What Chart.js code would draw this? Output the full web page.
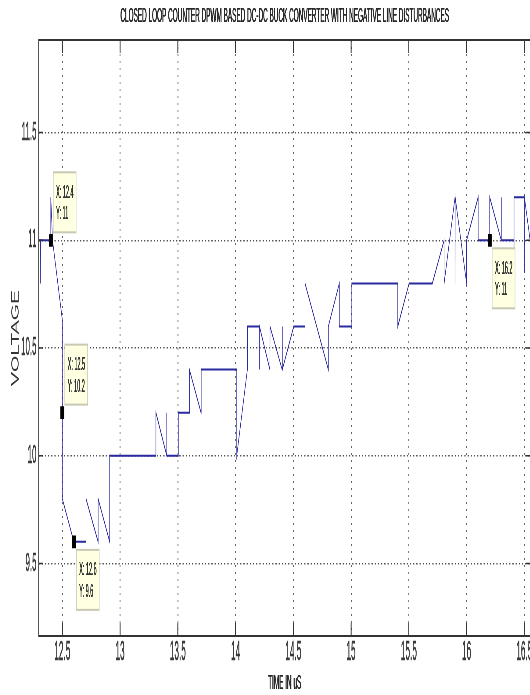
<!DOCTYPE html>
<html>
<head>
<meta charset="utf-8">
<title>DPWM buck converter</title>
<script src="https://cdn.jsdelivr.net/npm/chart.js@4.4.0/dist/chart.umd.min.js"></script>
<style>
  html, body { margin: 0; padding: 0; overflow: hidden; background: #fff; }
  /* the plot is laid out wide and squeezed horizontally */
  #wrap { position: absolute; left: 0; top: 0; transform: scaleX(0.305); transform-origin: 0 0; }
</style>
</head>
<body>
<div id="wrap"><canvas id="voltChart" width="1787" height="695"></canvas></div>
<script>
var chartTitle = 'CLOSED LOOP COUNTER DPWM BASED DC-DC BUCK CONVERTER WITH NEGATIVE LINE DISTURBANCES';
var xTitle = 'TIME IN uS';
var yTitle = 'VOLTAGE';

// output voltage trace (time in us, volts)
var timeUs = [
    12.25, 12.31, 12.31, 12.312, 12.4, 12.4, 12.415, 12.5, 12.5, 12.6,
    12.705, 12.705, 12.81, 12.81, 12.91, 12.91, 13.31, 13.31, 13.404, 13.404,
    13.405, 13.504, 13.504, 13.6, 13.6, 13.701, 13.702, 14.01, 14.01, 14.102,
    14.102, 14.206, 14.206, 14.207, 14.297, 14.298, 14.403, 14.404, 14.405, 14.503,
    14.601, 14.601, 14.803, 14.803, 14.898, 14.898, 15.006, 15.006, 15.404, 15.404,
    15.502, 15.703, 15.805, 15.805, 15.9, 15.9, 15.901, 16.0, 16.0, 16.1,
    16.1, 16.2, 16.2, 16.3, 16.3, 16.301, 16.41, 16.41, 16.411, 16.5,
    16.5, 16.501, 16.6
];
var voltage = [
    11.0, 11.0, 10.8, 11.0, 11.0, 11.2, 11.0, 10.63, 9.8, 9.6,
    9.6, 9.8, 9.6, 9.8, 9.6, 10.0, 10.0, 10.2, 10.0, 10.2,
    10.0, 10.0, 10.2, 10.2, 10.4, 10.2, 10.4, 10.4, 10.0, 10.4,
    10.6, 10.6, 10.4, 10.6, 10.4, 10.6, 10.4, 10.6, 10.4, 10.6,
    10.6, 10.8, 10.4, 10.6, 10.8, 10.6, 10.6, 10.8, 10.8, 10.6,
    10.8, 10.8, 11.0, 10.8, 11.2, 10.8, 11.2, 10.8, 11.0, 11.2,
    11.0, 11.0, 11.2, 11.0, 11.2, 11.0, 11.0, 10.85, 11.2, 11.2,
    10.85, 11.2, 10.8
];

// data cursors
var tipX = [12.4, 12.5, 12.6, 16.2];
var tipY = [11, 10.2, 9.6, 11];

var xTicks = [12.5, 13, 13.5, 14, 14.5, 15, 15.5, 16, 16.5];
var xTickLabels = ['12.5', '13', '13.5', '14', '14.5', '15', '15.5', '16', '16.5'];
var yTicks = [9.5, 10, 10.5, 11, 11.5];
var yTickLabels = ['9.5', '10', '10.5', '11', '11.5'];

var FONT = '"Liberation Sans", Arial, Helvetica, sans-serif';
var tipBelow = [false, false, true, true];

// text drawn twice, a little apart, so the strokes survive the squeeze
function heavyText(ctx, s, x, y, dx) {
    ctx.fillText(s, x, y);
    ctx.fillText(s, x + dx, y);
}

// box, inward ticks, titles and data tips, drawn like a MATLAB axes
var matlabAxes = {
    id: 'matlabAxes',
    afterDraw: function(chart) {
        var ctx = chart.ctx;
        var a = chart.chartArea;
        var xs = chart.scales.x, ys = chart.scales.y;
        ctx.save();

        ctx.strokeStyle = '#333';
        ctx.lineWidth = 3;
        xTicks.forEach(function(v) {
            var px = xs.getPixelForValue(v);
            ctx.beginPath();
            ctx.moveTo(px, a.top); ctx.lineTo(px, a.top + 13);
            ctx.moveTo(px, a.bottom); ctx.lineTo(px, a.bottom - 13);
            ctx.stroke();
        });
        ctx.lineWidth = 1.5;
        yTicks.forEach(function(v) {
            var py = ys.getPixelForValue(v);
            ctx.beginPath();
            ctx.moveTo(a.left, py); ctx.lineTo(a.left + 16, py);
            ctx.moveTo(a.right, py); ctx.lineTo(a.right - 16, py);
            ctx.stroke();
        });

        ctx.lineWidth = 2;
        ctx.beginPath();
        ctx.moveTo(a.left, a.top); ctx.lineTo(a.right, a.top);
        ctx.moveTo(a.left, a.bottom); ctx.lineTo(a.right, a.bottom);
        ctx.stroke();
        ctx.lineWidth = 3;
        ctx.strokeStyle = '#555';
        ctx.beginPath();
        ctx.moveTo(a.left, a.top); ctx.lineTo(a.left, a.bottom);
        ctx.moveTo(a.right, a.top); ctx.lineTo(a.right, a.bottom);
        ctx.stroke();

        ctx.fillStyle = '#2a2a2a';
        ctx.font = '21px ' + FONT;
        ctx.textAlign = 'center';
        ctx.textBaseline = 'middle';
        heavyText(ctx, chartTitle, (a.left + a.right) / 2, 16, 1.3);
        heavyText(ctx, xTitle, (a.left + a.right) / 2, 683, 1.3);

        ctx.save();
        ctx.fillStyle = '#333';
        ctx.translate(51, (a.top + a.bottom) / 2);
        ctx.rotate(-Math.PI / 2);
        ctx.scale(1, 1.68);
        ctx.fillText(yTitle, 0, 0);
        ctx.restore();

        tipX.forEach(function(xv, i) {
            var px = xs.getPixelForValue(xv);
            var py = ys.getPixelForValue(tipY[i]);
            var w = 75, h = 60;
            var left = px + 8;
            var top = tipBelow[i] ? py + 8 : py - 8 - h;
            ctx.fillStyle = '#ffffe1';
            ctx.fillRect(left, top, w, h);
            ctx.strokeStyle = '#c8c8b4';
            ctx.lineWidth = 2;
            ctx.strokeRect(left, top, w, h);
            ctx.fillStyle = '#333';
            ctx.font = '18px ' + FONT;
            ctx.textAlign = 'left';
            ctx.textBaseline = 'middle';
            heavyText(ctx, 'X: ' + xv, left + 9, top + 20.5, 1.1);
            heavyText(ctx, 'Y: ' + tipY[i], left + 9, top + 42, 1.1);
        });

        ctx.restore();
    }
};

var ctx = document.getElementById('voltChart').getContext('2d');

var chart = new Chart(ctx, {
    type: 'line',
    data: {
        datasets: [{
                label: 'cursor',
                data: tipX.map(function(x, i) { return {x: x, y: tipY[i]}; }),
                showLine: false,
                pointStyle: 'rect',
                pointRadius: 9,
                pointBorderWidth: 0,
                pointBackgroundColor: '#000',
                order: 0
            },
            {
                label: 'Vout',
                data: timeUs.map(function(t, i) { return {x: t, y: voltage[i]}; }),
                borderColor: '#2a2aa0',
                borderWidth: 2,
                pointRadius: 0,
                tension: 0,
                fill: false,
                order: 1
            }
        ]
    },
    options: {
        responsive: false,
        animation: false,
        layout: { padding: { top: 40, right: 47, left: 0, bottom: 0 } },
        plugins: {
            legend: { display: false },
            tooltip: { enabled: false },
            title: { display: false }
        },
        scales: {
            x: {
                type: 'linear',
                min: 12.292,
                max: 16.555,
                afterBuildTicks: function(scale) {
                    scale.ticks = xTicks.map(function(v) { return {value: v}; });
                },
                afterFit: function(scale) { scale.height = 59; },
                grid: { color: '#666', lineWidth: 3, drawTicks: false },
                border: { display: false, dash: [2, 5] },
                ticks: {
                    autoSkip: false,
                    maxRotation: 0,
                    padding: 0,
                    color: '#3a3a3a',
                    textStrokeColor: '#3a3a3a',
                    textStrokeWidth: 0.6,
                    font: { family: FONT, size: 27, lineHeight: 1.2 },
                    callback: function(v, i) { return xTickLabels[i]; }
                }
            },
            y: {
                min: 9.163,
                max: 11.93,
                afterBuildTicks: function(scale) {
                    scale.ticks = yTicks.map(function(v) { return {value: v}; });
                },
                afterFit: function(scale) { scale.width = 125.6; },
                grid: { color: '#555', lineWidth: 1.5, drawTicks: false },
                border: { display: false, dash: [4, 6.5] },
                ticks: {
                    autoSkip: false,
                    padding: 6,
                    color: '#3a3a3a',
                    textStrokeColor: '#3a3a3a',
                    textStrokeWidth: 0.6,
                    font: { family: FONT, size: 26, lineHeight: 1.2 },
                    callback: function(v, i) { return yTickLabels[i]; }
                }
            }
        }
    },
    plugins: [matlabAxes]
});
</script>
</body>
</html>
